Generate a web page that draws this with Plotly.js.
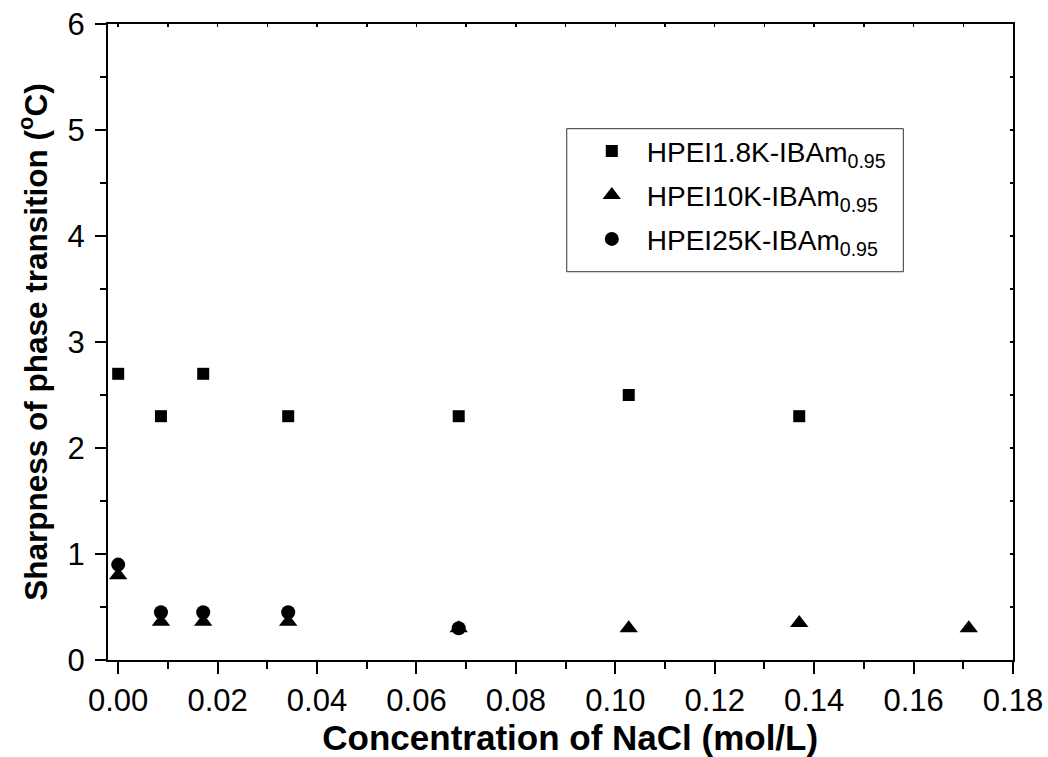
<!DOCTYPE html>
<html>
<head>
<meta charset="utf-8">
<script src="https://cdn.plot.ly/plotly-3.0.1.min.js"></script>
<style>html,body{margin:0;padding:0;background:#fff;}#chart{width:1048px;height:757px;}</style>
</head>
<body>
<div id="chart"></div>
<script>
// Data
var seriesNames = ["HPEI1.8K-IBAm<sub>0.95</sub>", "HPEI10K-IBAm<sub>0.95</sub>", "HPEI25K-IBAm<sub>0.95</sub>"];
var x18K = [0.0, 0.0086, 0.0171, 0.0342, 0.0685, 0.1027, 0.137];
var y18K = [2.7, 2.3, 2.7, 2.3, 2.3, 2.5, 2.3];
var x10K = [0.0, 0.0086, 0.0171, 0.0342, 0.0685, 0.1027, 0.137, 0.1711];
var y10K = [0.8, 0.36, 0.36, 0.36, 0.3, 0.3, 0.35, 0.3];
var x25K = [0.0, 0.0086, 0.0171, 0.0342, 0.0685];
var y25K = [0.9, 0.45, 0.45, 0.45, 0.3];
var xTickVals = [0, 0.02, 0.04, 0.06, 0.08, 0.10, 0.12, 0.14, 0.16, 0.18];
var xTickText = ["0.00", "0.02", "0.04", "0.06", "0.08", "0.10", "0.12", "0.14", "0.16", "0.18"];
var yTickVals = [0, 1, 2, 3, 4, 5, 6];

var FONT = "Liberation Sans, Arial, Helvetica, sans-serif";
var xRange = [-0.00205, 0.18];
var yRange = [0, 6];

var traces = [
  {x: x18K, y: y18K, name: seriesNames[0], legendgroup: "a", mode: "markers", type: "scatter",
   marker: {symbol: "square", size: 12, color: "#000"}},
  {x: x10K, y: y10K, name: seriesNames[1], legendgroup: "b", mode: "markers", type: "scatter",
   marker: {symbol: "triangle-up", size: 16, color: "#000"}},
  {x: x25K, y: y25K, name: seriesNames[2], legendgroup: "c", mode: "markers", type: "scatter",
   marker: {symbol: "circle", size: 14, color: "#000"}},
  {x: [null], y: [null], xaxis: "x2", yaxis: "y2", mode: "markers", type: "scatter",
   showlegend: false, hoverinfo: "skip"}
];

var layout = {
  width: 1048, height: 757,
  margin: {l: 108, r: 35, t: 24, b: 97},
  paper_bgcolor: "#fff", plot_bgcolor: "#fff",
  font: {family: FONT, color: "#000", size: 31},
  showlegend: true,
  xaxis: {
    range: xRange, autorange: false,
    tickvals: xTickVals, ticktext: xTickText,
    ticks: "outside", ticklen: 12, tickwidth: 2, tickcolor: "#000",
    minor: {dtick: 0.01, tick0: 0, ticks: "outside", ticklen: 7, tickwidth: 2, tickcolor: "#000"},
    showline: true, linewidth: 2, linecolor: "#000",
    showgrid: false, zeroline: false,
    tickfont: {size: 31, family: FONT},
    title: {text: "&nbsp;&nbsp;<b>Concentration of NaCl (mol/L)</b>", font: {size: 35, family: FONT}, standoff: 8}
  },
  yaxis: {
    range: yRange, autorange: false,
    tickvals: yTickVals,
    ticks: "outside", ticklen: 11, tickwidth: 2, tickcolor: "#000",
    minor: {dtick: 0.5, tick0: 0, ticks: "outside", ticklen: 6, tickwidth: 2, tickcolor: "#000"},
    showline: true, linewidth: 2, linecolor: "#000",
    showgrid: false, zeroline: false,
    tickfont: {size: 31, family: FONT},
    ticklabelstandoff: 4,
    title: {text: "<b>Sharpness of phase transition (<sup>o</sup>C)</b>", font: {size: 31.5, family: FONT}, standoff: 11}
  },
  xaxis2: {
    overlaying: "x", side: "top", range: xRange, autorange: false,
    tick0: 0, dtick: 0.01, ticks: "inside", ticklen: 3, tickwidth: 1.5, tickcolor: "#000",
    showticklabels: false, showline: true, linewidth: 2, linecolor: "#000",
    showgrid: false, zeroline: false
  },
  yaxis2: {
    overlaying: "y", side: "right", anchor: "x2", range: yRange, autorange: false,
    tick0: 0, dtick: 0.5, ticks: "inside", ticklen: 3, tickwidth: 1.5, tickcolor: "#000",
    showticklabels: false, showline: true, linewidth: 2, linecolor: "#000",
    showgrid: false, zeroline: false
  },
  legend: {
    x: 0.518, y: 0.839, xanchor: "left", yanchor: "top",
    bgcolor: "rgba(0,0,0,0)", borderwidth: 0,
    traceorder: "grouped", tracegroupgap: 4.5,
    font: {size: 28, family: FONT}, itemwidth: 60
  },
  shapes: [
    {type: "rect", xref: "paper", yref: "paper", x0: 0.5069, x1: 0.8788, y0: 0.6105, y1: 0.8354,
     line: {color: "#333", width: 1}, fillcolor: "rgba(0,0,0,0)", layer: "below"}
  ]
};

Plotly.newPlot("chart", traces, layout, {displayModeBar: false, staticPlot: true});
</script>
</body>
</html>
